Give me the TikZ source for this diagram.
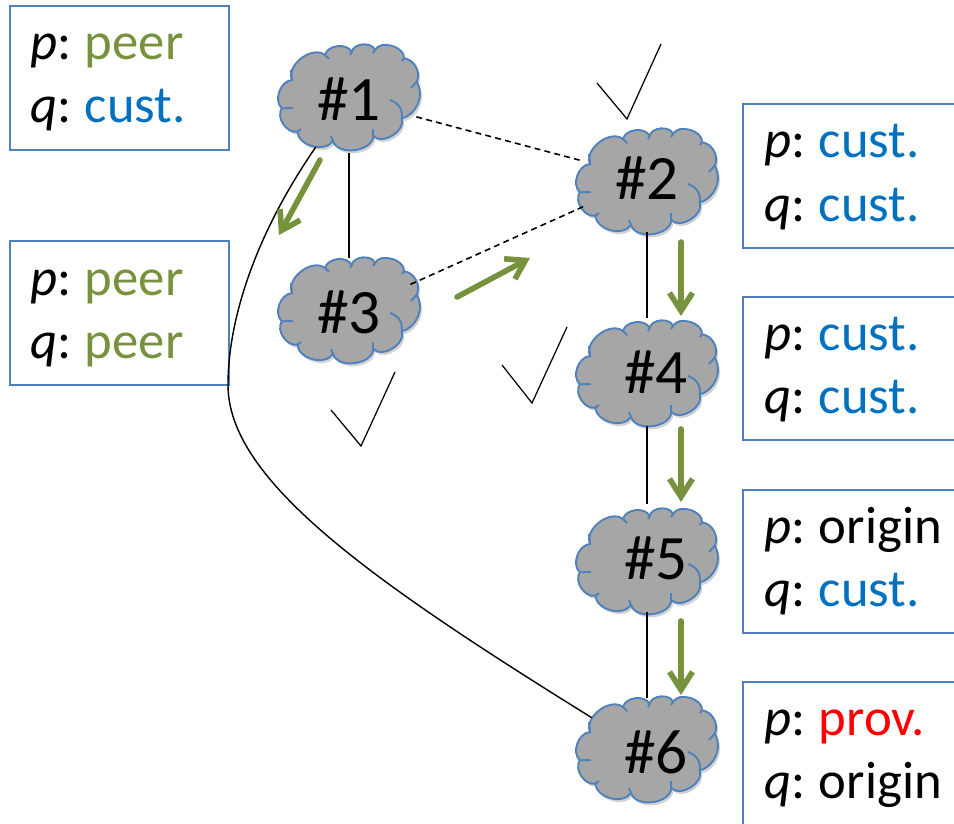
\documentclass[tikz,border=0pt]{standalone}
\usepackage{fontspec}
\setmainfont{Carlito}
\usetikzlibrary{arrows.meta,shapes.geometric,shadows}
\definecolor{cloudgray}{HTML}{A6A6A6}
\definecolor{edgeblue}{HTML}{4F81BD}
\definecolor{custblue}{HTML}{0070C0}
\definecolor{peergreen}{HTML}{76923C}
\newcommand{\peer}{\textcolor{peergreen}{peer}}
\newcommand{\cust}{\textcolor{custblue}{cust.}}
\newcommand{\prov}{\textcolor{red}{prov.}}
\newcommand{\pref}[2]{\textit{#1}:\hspace{-1.4pt} #2}
\begin{document}
\begin{tikzpicture}[x=0.02cm,y=-0.02cm]
		\useasboundingbox (0,0) rectangle (954,823);
		\tikzset{cloudoutline/.pic={
			\path[fill=cloudgray,draw=edgeblue,line width=1.1pt,drop shadow={shadow xshift=0.4mm,shadow yshift=-0.6mm,opacity=0.35}] (-57,-17) to[bend left=75] (-24,-42) to[bend left=70] (2.7,-45) to[bend left=75] (26,-47) to[bend left=80] (55,-38.7) to[bend left=55] (67.7,-15.3) to[bend left=55] (52.7,21.3) to[bend left=80] (24.3,39) to[bend left=80] (-16,44) to[bend left=70] (-51.7,34.7) to[bend left=65] (-67.3,11.3) to[bend left=65] cycle;
			\draw[edgeblue,line width=1.1pt] (41,3) .. controls (50,6) and (54,13) .. (52.7,21.3); % inner strokes
			\draw[edgeblue,line width=1.1pt] (-24,-42) -- (-20,-38);
			\draw[edgeblue,line width=1.1pt] (2.7,-45) -- (1,-42);
			\draw[edgeblue,line width=1.1pt] (26,-47) -- (24,-44);
			\draw[edgeblue,line width=1.1pt] (55,-38.7) -- (53,-36);
			\draw[edgeblue,line width=1.1pt] (67.7,-15.3) -- (62,-9);
			\draw[edgeblue,line width=1.1pt] (24.3,39) -- (24.3,32);
			\draw[edgeblue,line width=1.1pt] (-16,44) -- (-18,39);
			\draw[edgeblue,line width=1.1pt] (-51.7,34.7) -- (-48,32);
			\draw[edgeblue,line width=1.1pt] (-67.3,11.3) -- (-56,11);
			\draw[edgeblue,line width=1.1pt] (-57,-17) -- (-58,-27);
		}}
		\tikzset{asnode/.style={ellipse,minimum width=2.84cm,minimum height=2.16cm,inner sep=0pt,font=\fontsize{36}{36}\selectfont}}
		\tikzset{routearrow/.style={peergreen,line width=3.2pt,line cap=round,-{Straight Barb[length=3.6mm,width=4.6mm,line width=3.2pt]}}}
		\tikzset{checkmark/.style={black,line width=0.7pt}}
		\tikzset{boxline/.style={edgeblue,line width=0.8pt}}
		\tikzset{labeltext/.style={anchor=base west,inner sep=0pt,font=\fontsize{30}{30}\selectfont}}
		\tikzset{dashlink/.style={line width=0.9pt,dash pattern=on 3.4pt off 2.4pt}}
		\draw[boxline] (10,6) rectangle (229,150); % left boxes
		\draw[boxline] (10,241) rectangle (229,385);
		\draw[boxline] (960,104) -- (743,104) -- (743,248) -- (960,248); % right boxes
		\draw[boxline] (960,297) -- (743,297) -- (743,440) -- (960,440);
		\draw[boxline] (960,490) -- (743,490) -- (743,633) -- (960,633);
		\draw[boxline] (960,682) -- (743,682) -- (743,830);
		\node[labeltext] (t1p) at (30,59) {\pref{p}{\peer}};
		\node[labeltext] (t1q) at (30,122) {\pref{q}{\cust}};
		\node[labeltext] (t3p) at (30,295) {\pref{p}{\peer}};
		\node[labeltext] (t3q) at (30,358) {\pref{q}{\peer}};
		\node[labeltext] (t2p) at (764,157) {\pref{p}{\cust}};
		\node[labeltext] (t2q) at (764,221) {\pref{q}{\cust}};
		\node[labeltext] (t4p) at (764,350) {\pref{p}{\cust}};
		\node[labeltext] (t4q) at (764,413) {\pref{q}{\cust}};
		\node[labeltext] (t5p) at (764,543) {\pref{p}{origin}};
		\node[labeltext] (t5q) at (764,606) {\pref{q}{\cust}};
		\node[labeltext] (t6p) at (764,735) {\pref{p}{\prov}};
		\node[labeltext] (t6q) at (764,798) {\pref{q}{origin}};
		\pic at (349,97) {cloudoutline}; % the six clouds
		\pic at (647,181) {cloudoutline};
		\pic at (349,310) {cloudoutline};
		\pic at (647,373) {cloudoutline};
		\pic at (647,561) {cloudoutline};
		\pic at (647,749) {cloudoutline};
		\node[asnode] (n1) at (349,99) {\#1};
		\node[asnode] (n2) at (647,178) {\#2};
		\node[asnode] (n3) at (349,312) {\#3};
		\node[asnode] (n4) at (647,372) {\hspace{0.36cm}\#4};
		\node[asnode] (n5) at (647,558) {\hspace{0.36cm}\#5};
		\node[asnode] (n6) at (647,752) {\hspace{0.36cm}\#6};
		\coordinate (bend) at (228,385);
		\draw[line width=0.8pt] (n1)--(n3); %solid links
		\draw[line width=0.8pt] (n2)--(n4);
		\draw[line width=0.8pt] (n4)--(n5);
		\draw[line width=0.8pt] (n5)--(n6);
		\draw[line width=0.8pt] (n1) .. controls (255,235) and (228,320) .. (bend) .. controls (228,480) and (370,580) .. (n6); %long link
		\draw[dashlink] (n1)--(n2); %dashed links
		\draw[dashlink] (n3)--(n2);
		\coordinate (a1) at (320,160); \coordinate (b1) at (279,235); % green arrows
		\coordinate (a2) at (457,297); \coordinate (b2) at (530,258);
		\coordinate (a3) at (681,242); \coordinate (b3) at (681,316);
		\coordinate (a4) at (681,429); \coordinate (b4) at (681,502);
		\coordinate (a5) at (681,621); \coordinate (b5) at (681,695);
		\draw[routearrow] (a1)--(b1);
		\draw[routearrow] (a2)--(b2);
		\draw[routearrow] (a3)--(b3);
		\draw[routearrow] (a4)--(b4);
		\draw[routearrow] (a5)--(b5);
		\draw[checkmark] (597,83)--(627,119)--(661,44); % check marks
		\draw[checkmark] (502,365)--(532,403)--(567,327);
		\draw[checkmark] (331,410)--(361,446)--(395,372);
	\end{tikzpicture}
\end{document}
